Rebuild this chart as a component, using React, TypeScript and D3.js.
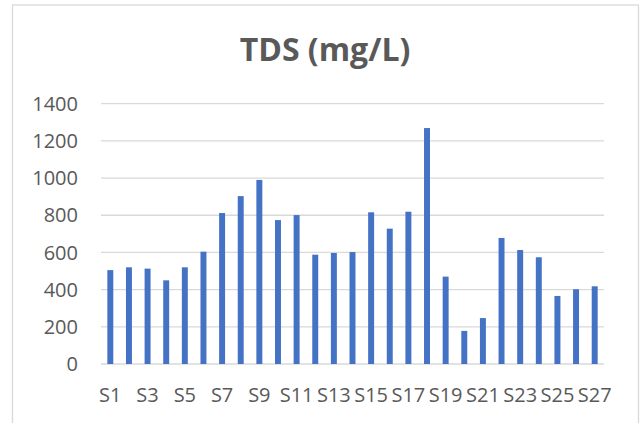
import React from "react";
import * as d3 from "d3";

const categories: string[] = Array.from({ length: 27 }, (_, i) => `S${i + 1}`);
const tdsValues: number[] = [
  505, 520, 513, 450, 520, 604, 812, 903, 990, 774, 801, 588, 597, 602,
  816, 728, 819, 1269, 470, 178, 247, 678, 613, 574, 366, 402, 418,
];
const yTicks: number[] = [0, 200, 400, 600, 800, 1000, 1200, 1400];
const title = "TDS (mg/L)";

const W = 643;
const H = 423;
const plot = { left: 101, right: 604, top: 103.7, bottom: 364 };

export default function App() {
  const x = d3
    .scaleBand<string>()
    .domain(categories)
    .range([plot.left, plot.right])
    .paddingInner(0.68)
    .paddingOuter(0.34);
  const y = d3.scaleLinear().domain([0, 1400]).range([plot.bottom, plot.top]);
  const font = "'Open Sans', sans-serif";
  const textColor = "#595959";

  return (
    <div style={{ position: "fixed", left: 0, top: 0 }}>
      <svg width={W} height={H} style={{ display: "block", background: "#fff" }}>
        <rect x={12.5} y={5} width={626} height={440} fill="#fff" stroke="#D9D9D9" strokeWidth={1.3} />
        <text
          x={325}
          y={60.7}
          textAnchor="middle"
          fontFamily={font}
          fontWeight={700}
          fontSize={32}
          fill={textColor}
        >
          {title}
        </text>
        {yTicks.map((t) => (
          <g key={t}>
            <line x1={plot.left} x2={plot.right} y1={y(t)} y2={y(t)} stroke="#D9D9D9" strokeWidth={1.3} />
            <text
              x={78}
              y={y(t)}
              dy="0.36em"
              textAnchor="end"
              fontFamily={font}
              fontSize={20}
              fill={textColor}
            >
              {t}
            </text>
          </g>
        ))}
        {categories.map((c, i) => (
          <rect
            key={c}
            x={x(c)}
            y={y(tdsValues[i])}
            width={x.bandwidth()}
            height={y(0) - y(tdsValues[i])}
            fill="#4472C4"
          />
        ))}
        {categories.map((c, i) =>
          i % 2 === 0 ? (
            <text
              key={c}
              x={(x(c) as number) + x.bandwidth() / 2}
              y={401.7}
              textAnchor="middle"
              fontFamily={font}
              fontSize={20}
              fill={textColor}
            >
              {c}
            </text>
          ) : null
        )}
      </svg>
    </div>
  );
}
